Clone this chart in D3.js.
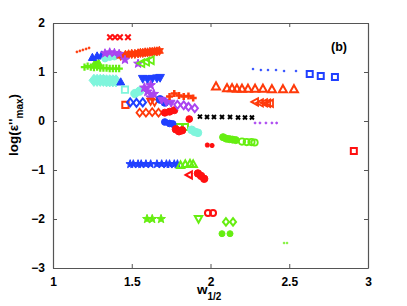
<!DOCTYPE html>
<html><head><meta charset="utf-8">
<script src="https://cdn.jsdelivr.net/npm/d3@7"></script>
<style>
html,body{margin:0;padding:0;background:#fff;}
svg text{font-family:Arial,"Liberation Sans",Helvetica,sans-serif;font-weight:bold;fill:#000;}
</style></head>
<body><svg id="c" width="407" height="306"></svg>
<script>
// ---------- data ----------
const xTicks = [1, 1.5, 2, 2.5, 3];
const xTickLabels = ["1", "1.5", "2", "2.5", "3"];
const yTicks = [-3, -2, -1, 0, 1, 2];
const yTickLabels = ["\u22123", "\u22122", "\u22121", "0", "1", "2"];

const redTimesTop = [[1.362,1.71],[1.394,1.71],[1.425,1.71],[1.476,1.71]];
const redDots = [[1.152,1.41],[1.171,1.43],[1.19,1.45],[1.21,1.47],[1.229,1.49]];
const redStarsTop = [[1.43,1.33],[1.46,1.35],[1.48,1.36],[1.50,1.37],[1.52,1.37],[1.54,1.38],[1.555,1.39],[1.57,1.39],[1.585,1.40],[1.60,1.40],[1.615,1.41],[1.63,1.41],[1.645,1.42],[1.66,1.42],[1.675,1.43]];
const greenPlusTop = [[1.2,1.1],[1.22,1.12],[1.24,1.1],[1.26,1.09],[1.28,1.1],[1.30,1.08],[1.32,1.08],[1.34,1.08],[1.36,1.07],[1.38,1.07],[1.40,1.07],[1.42,1.07]];
const greenTriTop = [[1.27,1.2],[1.29,1.18]];
const blueTriTop = [[1.25,1.3],[1.28,1.33],[1.31,1.35]];
const cyanCirclesTop = [[1.33,1.27],[1.36,1.3],[1.39,1.31]];
const purpleStarsTop = [[1.33,1.38],[1.36,1.40],[1.39,1.39],[1.42,1.37],[1.457,1.25],[1.54,1.17]];
const greenTriLeft = [[1.56,1.18],[1.59,1.21],[1.62,1.24]];
const cyanDiamonds = [[1.26,0.83],[1.28,0.83],[1.30,0.83],[1.32,0.83],[1.34,0.82],[1.36,0.82],[1.38,0.82],[1.40,0.82]];
const blueTriSingle = [[1.43,0.80]];
const blueDownTri = [[1.57,0.86],[1.60,0.85],[1.63,0.86],[1.66,0.87],[1.68,0.88]];
const cyanSquare = [[1.457,0.64]];
const redSquare = [[1.46,0.33]];
const cyanCirclesMid = [[1.52,0.56],[1.55,0.61]];
const purpleStarsMid = [[1.58,0.68],[1.60,0.6],[1.62,0.73],[1.64,0.55],[1.62,0.48]];
const blueDiamonds = [[1.49,0.38],[1.53,0.37],[1.57,0.38]];
const redDiamonds = [[1.55,0.17],[1.59,0.17],[1.63,0.18],[1.67,0.17]];
const redDownTri = [[1.62,0.40],[1.645,0.38]];
const blueCirclesMid = [[1.68,0.44],[1.71,0.38]];
const purpleDownTri = [[1.69,0.42],[1.72,0.38],[1.75,0.36]];
const redCirclesMid = [[1.71,0.17],[1.74,0.19],[1.77,0.22]];
const redPlus = [[1.74,0.5],[1.77,0.56],[1.8,0.52],[1.83,0.5],[1.86,0.51],[1.89,0.47]];
const purpleDiamonds = [[1.79,0.33],[1.83,0.32],[1.86,0.29],[1.9,0.26]];
const redEllipse = [[1.865,0.04]];
const blackTimes = [[1.933,0.09],[1.978,0.08],[2.022,0.08],[2.073,0.08],[2.124,0.08],[2.175,0.07],[2.219,0.07],[2.263,0.07]];
const purpleDots = [[2.283,-0.04],[2.314,-0.04],[2.352,-0.04],[2.39,-0.04],[2.42,-0.04]];
const blueDots = [[2.27,1.06],[2.32,1.04],[2.365,1.04],[2.416,1.04],[2.467,1.02],[2.543,1.02]];
const blueSquares = [[2.63,0.96],[2.70,0.92],[2.79,0.90]];
const redTriUp = [[2.035,0.71],[2.105,0.67],[2.137,0.67],[2.168,0.66],[2.2,0.66],[2.238,0.66],[2.283,0.66],[2.333,0.66],[2.39,0.65],[2.46,0.65],[2.53,0.65]];
const redTriLeft = [[2.283,0.39],[2.314,0.37],[2.34,0.37],[2.36,0.36],[2.378,0.36]];
const greenCirclesFilled = [[2.08,-0.33],[2.1,-0.36],[2.12,-0.37],[2.14,-0.38],[2.16,-0.39]];
const greenCirclesHollow = [[2.2,-0.42],[2.23,-0.43],[2.26,-0.43],[2.28,-0.44]];
const redAsterisk = [[1.98,-0.49],[2.01,-0.5]];
const redSquareRight = [[2.91,-0.61]];
const greenSquares = [[1.806,-0.12],[1.838,-0.12]];
const blueCirclesLow = [[1.71,-0.02],[1.74,-0.05],[1.76,-0.06]];
const redCirclesLow = [[1.78,-0.17],[1.8,-0.21],[1.82,-0.19]];
const cyanCirclesLow = [[1.88,-0.18],[1.9,-0.22],[1.92,-0.24]];
const blueStars = [[1.49,-0.88],[1.51,-0.88],[1.54,-0.88],[1.56,-0.88],[1.59,-0.88],[1.62,-0.88],[1.66,-0.88],[1.69,-0.88],[1.72,-0.88],[1.74,-0.88],[1.77,-0.88],[1.79,-0.88]];
const greenTriUp = [[1.81,-0.9],[1.84,-0.88],[1.87,-0.87],[1.89,-0.88]];
const redTriLeftLow = [[1.864,-1.1]];
const redCirclesBelow = [[1.92,-1.07],[1.94,-1.12],[1.96,-1.18]];
const greenStars = [[1.597,-2.0],[1.63,-2.0],[1.686,-2.0]];
const greenTriDown = [[1.924,-2.0]];
const redCirclesHollow = [[1.984,-1.88],[2.016,-1.88]];
const greenDiamonds = [[2.098,-2.06],[2.143,-2.06]];
const greenCirclesLow = [[2.073,-2.3],[2.124,-2.3]];
const greenPlusSmall = [[2.467,-2.49],[2.486,-2.49]];

// ---------- colours ----------
const RED = "#ff1010", ORANGE = "#ff3a0a", BLUE = "#2040ff", GREEN = "#66ee11",
      CYAN = "#7ff5dc", PURPLE = "#aa44f0", BLACK = "#000";

// ---------- custom symbol types for d3.symbol ----------
const R = s => Math.sqrt(s) / 2;
const shapes = {
  square: {draw(c,s){const r=R(s);c.rect(-r,-r,2*r,2*r);}},
  diamond: {draw(c,s){const r=R(s);c.moveTo(0,-r*1.25);c.lineTo(r,0);c.lineTo(0,r*1.25);c.lineTo(-r,0);c.closePath();}},
  circle: {draw(c,s){const r=R(s);c.moveTo(r,0);c.arc(0,0,r,0,2*Math.PI);}},
  triUp: {draw(c,s){const r=R(s);c.moveTo(0,-r);c.lineTo(r,r*0.8);c.lineTo(-r,r*0.8);c.closePath();}},
  triDown: {draw(c,s){const r=R(s);c.moveTo(0,r);c.lineTo(r,-r*0.8);c.lineTo(-r,-r*0.8);c.closePath();}},
  triLeft: {draw(c,s){const r=R(s);c.moveTo(-r,0);c.lineTo(r*0.8,-r);c.lineTo(r*0.8,r);c.closePath();}},
  times: {draw(c,s){const r=R(s);c.moveTo(-r,-r);c.lineTo(r,r);c.moveTo(r,-r);c.lineTo(-r,r);}},
  plus: {draw(c,s){const r=R(s);c.moveTo(-r,0);c.lineTo(r,0);c.moveTo(0,-r);c.lineTo(0,r);}},
  asterisk: {draw(c,s){const r=R(s),q=r*0.72;c.moveTo(-r,0);c.lineTo(r,0);c.moveTo(0,-r);c.lineTo(0,r);c.moveTo(-q,-q);c.lineTo(q,q);c.moveTo(q,-q);c.lineTo(-q,q);}},
  dot: {draw(c,s){const r=R(s);c.moveTo(r,0);c.arc(0,0,r,0,2*Math.PI);}},
  star: {draw(c,s){const r=R(s)*1.2,ri=r*0.42;for(let i=0;i<10;i++){const a=-Math.PI/2+i*Math.PI/5,rr=i%2?ri:r;const px=rr*Math.cos(a),py=rr*Math.sin(a);i?c.lineTo(px,py):c.moveTo(px,py);}c.closePath();}},
  hexstar: {draw(c,s){const r=R(s)*1.2,ri=r*0.55;for(let i=0;i<12;i++){const a=-Math.PI/2+i*Math.PI/6,rr=i%2?ri:r;const px=rr*Math.cos(a),py=rr*Math.sin(a);i?c.lineTo(px,py):c.moveTo(px,py);}c.closePath();}}
};

// series: data, shape, colour, filled, size (area), stroke width
const series = [
  {d: redDots, shape:"dot", color: ORANGE, fill:true, size:5, sw:0.5},
  {d: redTimesTop, shape:"times", color: RED, fill:false, size:30, sw:2},
  {d: greenPlusTop, shape:"plus", color: GREEN, fill:false, size:55, sw:2.2},
  {d: greenTriTop, shape:"triUp", color: GREEN, fill:true, size:64, sw:1},
  {d: blueTriTop, shape:"triUp", color: BLUE, fill:true, size:64, sw:1},
  {d: cyanCirclesTop, shape:"circle", color: CYAN, fill:true, size:40, sw:1},
  {d: redStarsTop, shape:"hexstar", color: ORANGE, fill:true, size:60, sw:1},
  {d: purpleStarsTop, shape:"star", color: PURPLE, fill:true, size:60, sw:1},
  {d: greenTriLeft, shape:"triLeft", color: GREEN, fill:false, size:60, sw:1.8},
  {d: cyanDiamonds, shape:"diamond", color: CYAN, fill:true, size:95, sw:1},
  {d: blueTriSingle, shape:"triUp", color: BLUE, fill:true, size:64, sw:1},
  {d: blueDownTri, shape:"triDown", color: BLUE, fill:true, size:75, sw:1},
  {d: cyanSquare, shape:"square", color: CYAN, fill:false, size:40, sw:1.8},
  {d: redSquare, shape:"square", color: ORANGE, fill:false, size:40, sw:2},
  {d: cyanCirclesMid, shape:"circle", color: CYAN, fill:true, size:70, sw:1},
  {d: purpleStarsMid, shape:"star", color: PURPLE, fill:true, size:70, sw:1},
  {d: blueDiamonds, shape:"diamond", color: BLUE, fill:false, size:40, sw:2},
  {d: redDiamonds, shape:"diamond", color: ORANGE, fill:false, size:40, sw:1.8},
  {d: redDownTri, shape:"triDown", color: ORANGE, fill:false, size:50, sw:1.8},
  {d: blueCirclesMid, shape:"circle", color: BLUE, fill:true, size:60, sw:1},
  {d: purpleDownTri, shape:"triDown", color: PURPLE, fill:true, size:60, sw:1},
  {d: redCirclesMid, shape:"circle", color: RED, fill:true, size:50, sw:1},
  {d: redPlus, shape:"plus", color: ORANGE, fill:false, size:50, sw:2.5},
  {d: purpleDiamonds, shape:"diamond", color: PURPLE, fill:false, size:40, sw:2},
  {d: redEllipse, shape:"circle", color: RED, fill:true, size:45, sw:1},
  {d: blackTimes, shape:"times", color: BLACK, fill:false, size:16, sw:2},
  {d: purpleDots, shape:"dot", color: PURPLE, fill:true, size:4, sw:0.8},
  {d: blueDots, shape:"dot", color: BLUE, fill:true, size:4, sw:0.5},
  {d: blueSquares, shape:"square", color: BLUE, fill:false, size:36, sw:2},
  {d: redTriUp, shape:"triUp", color: ORANGE, fill:false, size:64, sw:2},
  {d: redTriLeft, shape:"triLeft", color: ORANGE, fill:false, size:55, sw:1.8},
  {d: greenCirclesFilled, shape:"circle", color: GREEN, fill:true, size:50, sw:1},
  {d: greenCirclesHollow, shape:"circle", color: GREEN, fill:false, size:40, sw:1.8},
  {d: redAsterisk, shape:"asterisk", color: RED, fill:false, size:25, sw:1.6},
  {d: redSquareRight, shape:"square", color: RED, fill:false, size:36, sw:2},
  {d: greenSquares, shape:"square", color: GREEN, fill:false, size:36, sw:2},
  {d: blueCirclesLow, shape:"circle", color: BLUE, fill:true, size:45, sw:1},
  {d: redCirclesLow, shape:"circle", color: RED, fill:true, size:55, sw:1},
  {d: cyanCirclesLow, shape:"circle", color: CYAN, fill:true, size:60, sw:1},
  {d: blueStars, shape:"star", color: BLUE, fill:true, size:55, sw:1},
  {d: greenTriUp, shape:"triUp", color: GREEN, fill:false, size:55, sw:2},
  {d: redTriLeftLow, shape:"triLeft", color: RED, fill:false, size:50, sw:2},
  {d: redCirclesBelow, shape:"circle", color: RED, fill:true, size:55, sw:1},
  {d: greenStars, shape:"star", color: GREEN, fill:true, size:60, sw:1},
  {d: greenTriDown, shape:"triDown", color: GREEN, fill:false, size:55, sw:2},
  {d: redCirclesHollow, shape:"circle", color: RED, fill:false, size:36, sw:2},
  {d: greenDiamonds, shape:"diamond", color: GREEN, fill:false, size:36, sw:2},
  {d: greenCirclesLow, shape:"circle", color: GREEN, fill:true, size:36, sw:1},
  {d: greenPlusSmall, shape:"plus", color: GREEN, fill:false, size:6, sw:1}
];

// ---------- chart ----------
const svg = d3.select("#c");
const x = d3.scaleLinear().domain([1, 3]).range([53, 368]);
const y = d3.scaleLinear().domain([-3, 2]).range([268, 23]);

const marks = svg.append("g");
series.forEach(s => {
  const sym = d3.symbol().type(shapes[s.shape]).size(s.size);
  marks.append("g").selectAll("path").data(s.d).join("path")
    .attr("transform", p => `translate(${x(p[0])},${y(p[1])})`)
    .attr("d", sym)
    .attr("fill", s.fill ? s.color : "none")
    .attr("stroke", s.color)
    .attr("stroke-width", s.sw)
    .attr("stroke-linejoin", "miter");
});

// axes (box with inward ticks)
const AX = "#555";
const fmtX = (d,i) => xTickLabels[i];
const fmtY = (d,i) => yTickLabels[i];
const gB = svg.append("g").attr("transform", "translate(0,268)")
  .call(d3.axisBottom(x).tickValues(xTicks).tickFormat(fmtX).tickSizeInner(-4).tickSizeOuter(0).tickPadding(9));
const gT = svg.append("g").attr("transform", "translate(0,23)")
  .call(d3.axisTop(x).tickValues(xTicks).tickFormat("").tickSizeInner(-4).tickSizeOuter(0));
const gL = svg.append("g").attr("transform", "translate(53,0)")
  .call(d3.axisLeft(y).tickValues(yTicks).tickFormat(fmtY).tickSizeInner(-4).tickSizeOuter(0).tickPadding(8));
const gR = svg.append("g").attr("transform", "translate(368,0)")
  .call(d3.axisRight(y).tickValues(yTicks).tickFormat("").tickSizeInner(-4).tickSizeOuter(0));
[gB, gT, gL, gR].forEach(g => {
  g.select(".domain").attr("stroke", AX).attr("stroke-width", 1.2);
  g.selectAll(".tick line").attr("stroke", AX);
  g.selectAll(".tick text").style("font-size", "12px").style("font-weight", "bold")
    .style("font-family", "Arial, 'Liberation Sans', sans-serif").attr("fill", "#000");
});

// axis labels
const xl = svg.append("text").attr("x", 197).attr("y", 294).style("font-size", "13.5px");
xl.append("tspan").text("w");
xl.append("tspan").attr("dy", 6).style("font-size", "10px").text("1/2");

const yl = svg.append("text").attr("transform", "translate(18,125) rotate(-90)")
  .attr("text-anchor", "middle").style("font-size", "13.5px");
yl.append("tspan").text("log(\u03b5''");
yl.append("tspan").attr("dy", 5).style("font-size", "10px").text("max");
yl.append("tspan").attr("dy", -5).text(")");

svg.append("text").attr("x", 331).attr("y", 51).style("font-size", "12.5px").text("(b)");
</script></body></html>
